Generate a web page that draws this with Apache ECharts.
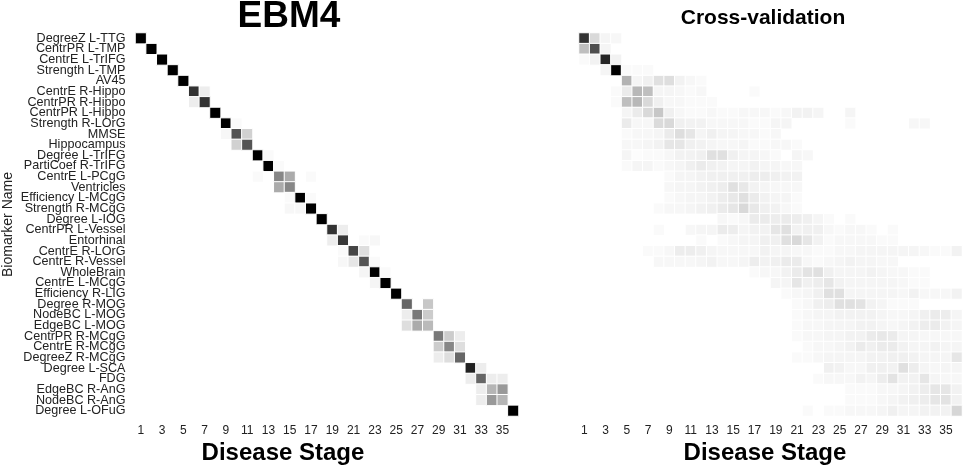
<!DOCTYPE html>
<html>
<head>
<meta charset="utf-8">
<script src="https://cdn.jsdelivr.net/npm/echarts@6/dist/echarts.min.js"></script>
<style>
  html, body { margin: 0; padding: 0; background: #fff; }
  #main { width: 965px; height: 474px; }
</style>
</head>
<body>
<div id="main"></div>
<script>
// 疾病阶段 (x 轴)
const stages = ['1','2','3','4','5','6','7','8','9','10','11','12','13','14','15','16','17','18',
  '19','20','21','22','23','24','25','26','27','28','29','30','31','32','33','34','35','36'];

// 生物标志物 (从上到下)
const biomarkers = [
  'DegreeZ L-TTG', 'CentrPR L-TMP', 'CentrE L-TrIFG', 'Strength L-TMP', 'AV45',
  'CentrE R-Hippo', 'CentrPR R-Hippo', 'CentrPR L-Hippo', 'Strength R-LOrG', 'MMSE',
  'Hippocampus', 'Degree L-TrIFG', 'PartiCoef R-TrIFG', 'CentrE L-PCgG', 'Ventricles',
  'Efficiency L-MCgG', 'Strength R-MCgG', 'Degree L-IOG', 'CentrPR L-Vessel', 'Entorhinal',
  'CentrE R-LOrG', 'CentrE R-Vessel', 'WholeBrain', 'CentrE L-MCgG', 'Efficiency R-LIG',
  'Degree R-MOG', 'NodeBC L-MOG', 'EdgeBC L-MOG', 'CentrPR R-MCgG', 'CentrE R-MCgG',
  'DegreeZ R-MCgG', 'Degree L-SCA', 'FDG', 'EdgeBC R-AnG', 'NodeBC R-AnG', 'Degree L-OFuG'
];

// 每行: [起始阶段, 该阶段起的概率...]
const ebm4Rows = [
  [1, 1],
  [2, 1],
  [3, 1],
  [4, 1],
  [5, 1],
  [6, 0.8, 0.07],
  [6, 0.07, 0.8],
  [8, 1],
  [9, 1, 0.02],
  [9, 0.03, 0.67, 0.18],
  [10, 0.18, 0.67],
  [12, 1, 0.02],
  [13, 1, 0.02],
  [12, 0.02, 0, 0.47, 0.33, 0, 0.02],
  [14, 0.33, 0.47],
  [15, 0.02, 1, 0.02],
  [15, 0.03, 0.03, 1],
  [18, 1],
  [19, 0.8, 0.07],
  [19, 0.07, 0.78, 0, 0.02, 0.03],
  [20, 0.02, 0.73, 0.13],
  [20, 0.03, 0.1, 0.67, 0.02],
  [22, 0.04, 1, 0.02],
  [23, 0.04, 1],
  [25, 1],
  [26, 0.6, 0, 0.22],
  [26, 0.07, 0.53, 0.2],
  [26, 0.13, 0.33, 0.27],
  [29, 0.53, 0.2, 0.07],
  [29, 0.2, 0.47, 0.13],
  [29, 0.07, 0.13, 0.6],
  [32, 0.87, 0.07],
  [32, 0.07, 0.6, 0.07, 0.07],
  [33, 0.07, 0.29, 0.4],
  [33, 0.07, 0.4, 0.29],
  [36, 1]
];

const cvRows = [
  [1, 0.8, 0.15, 0.04, 0.03],
  [1, 0.25, 0.7, 0.04],
  [1, 0.02, 0.05, 0.85, 0.05],
  [3, 0.04, 1, 0.02, 0.02, 0.02],
  [5, 0.3, 0.04, 0.06, 0.12, 0.13, 0.05, 0.03, 0.02],
  [4, 0.02, 0.08, 0.28, 0.25, 0.04, 0.04, 0.03, 0.02, 0.03, 0, 0, 0, 0, 0.02],
  [4, 0.02, 0.25, 0.28, 0.15, 0.06, 0.03, 0.03, 0.02, 0.02, 0.02],
  [5, 0.04, 0.08, 0.15, 0.22, 0.06, 0.03, 0.02, 0.02, 0.03, 0.02, 0.02, 0.03, 0.03, 0.03, 0.02, 0.03, 0.05, 0.05, 0.04, 0, 0, 0.04],
  [5, 0.08, 0.03, 0.03, 0.14, 0.15, 0.06, 0.05, 0.05, 0.03, 0.03, 0.03, 0.03, 0.02, 0.02, 0.04, 0.04, 0, 0, 0, 0, 0, 0.02, 0, 0, 0, 0, 0, 0.03, 0.03],
  [5, 0.02, 0.03, 0.03, 0.04, 0.08, 0.13, 0.1, 0.04, 0.06, 0.04, 0.04, 0.03, 0.03, 0.02, 0.03],
  [5, 0.03, 0.03, 0.04, 0.05, 0.1, 0.1, 0.06, 0.05, 0.04, 0.03, 0.03, 0.04, 0.02, 0.02, 0.03, 0.03, 0.02],
  [5, 0.04, 0.01, 0.02, 0.02, 0.03, 0.05, 0.05, 0.06, 0.12, 0.12, 0.06, 0.04, 0.04, 0.03, 0.02, 0, 0.04, 0.03],
  [5, 0.02, 0.04, 0.04, 0.02, 0.03, 0.04, 0.06, 0.08, 0.06, 0.05, 0.04, 0.04, 0.05, 0.04, 0.04, 0.03, 0.03],
  [9, 0.02, 0.04, 0.04, 0.05, 0.06, 0.06, 0.06, 0.06, 0.07, 0.07, 0.06, 0.05, 0.05],
  [9, 0.03, 0.04, 0.04, 0.05, 0.06, 0.07, 0.12, 0.09, 0.05, 0.04, 0.03, 0.03, 0.03],
  [9, 0.02, 0.03, 0.04, 0.04, 0.05, 0.07, 0.09, 0.12, 0.08, 0.05, 0.04, 0.04, 0.02],
  [8, 0.02, 0.03, 0.03, 0.04, 0.05, 0.06, 0.08, 0.1, 0.15, 0.09, 0.06, 0.05, 0.03, 0.02],
  [14, 0.03, 0.02, 0.03, 0.08, 0.08, 0.07, 0.08, 0.07, 0.06, 0.04, 0.02, 0, 0.02],
  [8, 0.02, 0, 0, 0.03, 0.04, 0.04, 0.08, 0.07, 0.04, 0.05, 0.05, 0.1, 0.12, 0.05, 0.06, 0.06, 0.03, 0.02, 0.03, 0.03, 0.02, 0, 0.02],
  [12, 0.02, 0, 0.02, 0.03, 0.04, 0.04, 0.06, 0.06, 0.12, 0.15, 0.1, 0.05, 0.02, 0.03, 0.03, 0.03, 0.03, 0.02, 0.02],
  [7, 0.02, 0.02, 0.03, 0.07, 0.07, 0.06, 0.04, 0.03, 0.03, 0.03, 0.03, 0.05, 0.04, 0.04, 0.03, 0.03, 0.02, 0.02, 0.03, 0.03, 0.04, 0.04, 0.04, 0.04, 0.04, 0.04, 0.03, 0.02, 0.02, 0.05],
  [8, 0.03, 0.03, 0.03, 0.03, 0.04, 0.05, 0.03, 0.03, 0.04, 0.07, 0.05, 0.06, 0.08, 0.08, 0.03, 0.02, 0.03, 0.04, 0.05, 0.04, 0.04, 0.03, 0.03],
  [17, 0.02, 0.03, 0.03, 0.05, 0.08, 0.11, 0.12, 0.06, 0.04, 0.04, 0.04, 0.05, 0.04, 0.03, 0.03, 0.02, 0.02],
  [19, 0.04, 0.04, 0.1, 0.06, 0.07, 0.1, 0.05, 0.04, 0.04, 0.04, 0.04, 0.04, 0.03, 0.02, 0.02],
  [20, 0.02, 0.03, 0.04, 0.06, 0.12, 0.12, 0.04, 0.04, 0.04, 0.04, 0.04, 0.03, 0.05, 0.03, 0.03, 0.03, 0.05],
  [21, 0.02, 0.03, 0.06, 0.07, 0.12, 0.12, 0.11, 0.05, 0.04, 0.02, 0.02, 0.02],
  [21, 0.02, 0.03, 0.04, 0.04, 0.05, 0.05, 0.05, 0.05, 0.04, 0.03, 0.03, 0.04, 0.06, 0.08, 0.07, 0.04],
  [21, 0.02, 0.03, 0.03, 0.04, 0.04, 0.04, 0.05, 0.05, 0.04, 0.03, 0.04, 0.05, 0.07, 0.08, 0.05, 0.04],
  [21, 0.02, 0.03, 0.03, 0.04, 0.04, 0.05, 0.05, 0.08, 0.09, 0.08, 0.04, 0.04, 0.03, 0.03, 0.03, 0.03],
  [22, 0.02, 0.03, 0.03, 0.04, 0.05, 0.08, 0.06, 0.08, 0.08, 0.05, 0.04, 0.04, 0.05, 0.04, 0.04],
  [21, 0.02, 0.02, 0.03, 0.04, 0.04, 0.04, 0.04, 0.05, 0.05, 0.06, 0.06, 0.05, 0.04, 0.04, 0.04, 0.1],
  [24, 0.06, 0.05, 0.03, 0.03, 0.06, 0.06, 0.05, 0.12, 0.07, 0.04, 0.03, 0.04, 0.04],
  [23, 0.02, 0.03, 0.03, 0.03, 0.05, 0.04, 0.07, 0.11, 0.05, 0.05, 0.1, 0.04, 0.03, 0.03],
  [26, 0.02, 0.02, 0.02, 0.03, 0.03, 0.04, 0.05, 0.07, 0.1, 0.1, 0.05],
  [26, 0.02, 0.02, 0.02, 0.03, 0.04, 0.05, 0.06, 0.07, 0.1, 0.11, 0.05],
  [22, 0.02, 0, 0.02, 0.02, 0.03, 0.03, 0.03, 0.04, 0.06, 0.04, 0.04, 0.05, 0.05, 0.05, 0.16]
];

// 稀疏行 -> [x, y, v]
function toCells(rows) {
  const cells = [];
  rows.forEach(function (row, r) {
    const start = row[0];
    row.slice(1).forEach(function (v, k) {
      if (v > 0) cells.push([start - 1 + k, r, v]);
    });
  });
  return cells;
}

const chart = echarts.init(document.getElementById('main'), null, { renderer: 'canvas' });

const font = 'Liberation Sans, Arial, Helvetica, sans-serif';
const titleFont = { fontFamily: font, fontWeight: 'bold', color: '#000' };

function xAxisFor(gridIndex) {
  return {
    type: 'category',
    gridIndex: gridIndex,
    data: stages,
    axisLine: { show: false },
    axisTick: { show: false },
    splitLine: { show: false },
    axisLabel: { interval: 1, fontSize: 12, color: '#222', fontFamily: font, margin: 9 }
  };
}

const option = {
  backgroundColor: '#fff',
  animation: false,
  title: [
    { text: 'EBM4', left: 289, top: 17, padding: 0, textAlign: 'center', textVerticalAlign: 'middle',
      textStyle: Object.assign({ fontSize: 37 }, titleFont) },
    { text: 'Cross-validation', left: 763, top: 18.5, padding: 0, textAlign: 'center', textVerticalAlign: 'middle',
      textStyle: Object.assign({ fontSize: 21 }, titleFont) },
    { text: 'Disease Stage', left: 283, top: 453, padding: 0, textAlign: 'center', textVerticalAlign: 'middle',
      textStyle: Object.assign({ fontSize: 24 }, titleFont) },
    { text: 'Disease Stage', left: 765, top: 453, padding: 0, textAlign: 'center', textVerticalAlign: 'middle',
      textStyle: Object.assign({ fontSize: 24 }, titleFont) }
  ],
  grid: [
    { left: 135.5, top: 33, width: 383, height: 383 },
    { left: 579, top: 33, width: 383, height: 383 }
  ],
  xAxis: [xAxisFor(0), xAxisFor(1)],
  yAxis: [
    {
      type: 'category',
      gridIndex: 0,
      inverse: true,
      data: biomarkers,
      name: 'Biomarker Name',
      nameLocation: 'middle',
      nameGap: 120,
      nameTextStyle: { fontSize: 14, color: '#222', fontFamily: font },
      axisLine: { show: false },
      axisTick: { show: false },
      splitLine: { show: false },
      axisLabel: { interval: 0, fontSize: 12.6, color: '#222', fontFamily: font, margin: 10 }
    },
    {
      type: 'category',
      gridIndex: 1,
      inverse: true,
      data: biomarkers,
      axisLine: { show: false },
      axisTick: { show: false },
      splitLine: { show: false },
      axisLabel: { show: false }
    }
  ],
  visualMap: [
    { show: false, seriesIndex: 0, min: 0, max: 1, dimension: 2, inRange: { color: ['#ffffff', '#000000'] } },
    { show: false, seriesIndex: 1, min: 0, max: 1, dimension: 2, inRange: { color: ['#ffffff', '#000000'] } }
  ],
  series: [
    {
      name: 'EBM4',
      type: 'heatmap',
      xAxisIndex: 0,
      yAxisIndex: 0,
      data: toCells(ebm4Rows),
      itemStyle: { borderColor: '#fff', borderWidth: 1 },
      emphasis: { disabled: true }
    },
    {
      name: 'Cross-validation',
      type: 'heatmap',
      xAxisIndex: 1,
      yAxisIndex: 1,
      data: toCells(cvRows),
      itemStyle: { borderColor: '#fff', borderWidth: 1 },
      emphasis: { disabled: true }
    }
  ]
};

chart.setOption(option);
</script>
</body>
</html>
